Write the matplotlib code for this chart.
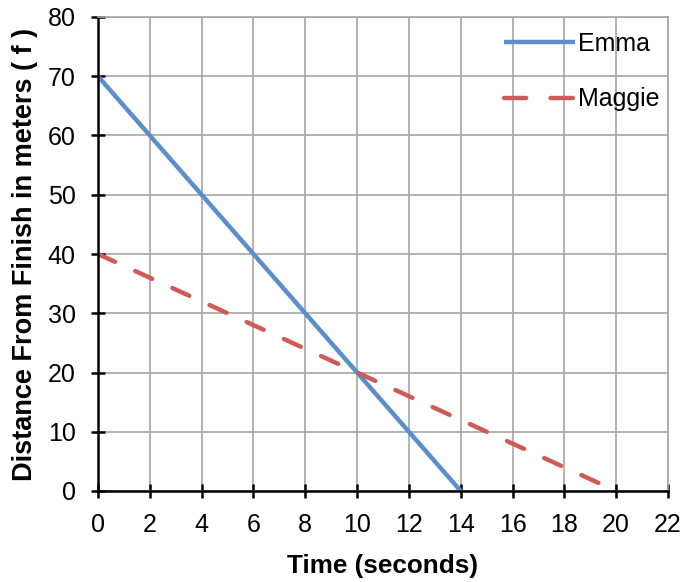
import matplotlib
matplotlib.use("Agg")
import matplotlib.pyplot as plt

plt.rcParams["font.family"] = ["Liberation Sans", "DejaVu Sans"]

emma_t = [0, 14]
emma_d = [70, 0]
maggie_t = [0, 20]
maggie_d = [40, 0]
x_ticks = list(range(0, 23, 2))
y_ticks = list(range(0, 81, 10))

W, H = 683, 582
fig = plt.figure(figsize=(W / 100, H / 100), dpi=100)
ax = fig.add_axes([98 / W, 1 - 491 / H, 570 / W, 474 / H])

ax.plot(emma_t, emma_d, color="#5b8fcb", lw=3.2, label="Emma", solid_capstyle="butt")
ax.plot(maggie_t, maggie_d, color="#cf5b57", lw=3.2, dashes=(4.2, 5),
        label="Maggie", dash_capstyle="round")

ax.set_xlim(0, 22)
ax.set_ylim(0, 80)
ax.set_xticks(x_ticks)
ax.set_yticks(y_ticks)
ax.grid(True, color="#a6a6a6", lw=1.2)
ax.set_axisbelow(True)
for side in ("top", "right"):
    ax.spines[side].set_color("#a6a6a6")
    ax.spines[side].set_linewidth(1.2)
for side in ("left", "bottom"):
    ax.spines[side].set_color("black")
    ax.spines[side].set_linewidth(1.8)
ax.tick_params(direction="inout", length=10, width=1.8, labelsize=18, pad=11)

ax.set_xlabel("Time (seconds)", fontsize=18.8, fontweight="bold", labelpad=12)
ax.set_ylabel("Distance From Finish in meters ( f )", fontsize=19.5,
              fontweight="bold", labelpad=7)

leg = ax.legend(loc="upper left", frameon=False, fontsize=18, handlelength=2.85,
                handletextpad=0.12, borderpad=0.0, borderaxespad=0.0,
                labelspacing=1.25, bbox_to_anchor=(504 / W, 1 - 32 / H),
                bbox_transform=fig.transFigure)
leg.get_lines()[1].set_dashes((5, 5.5))

fig.savefig("out.png", dpi=100)
